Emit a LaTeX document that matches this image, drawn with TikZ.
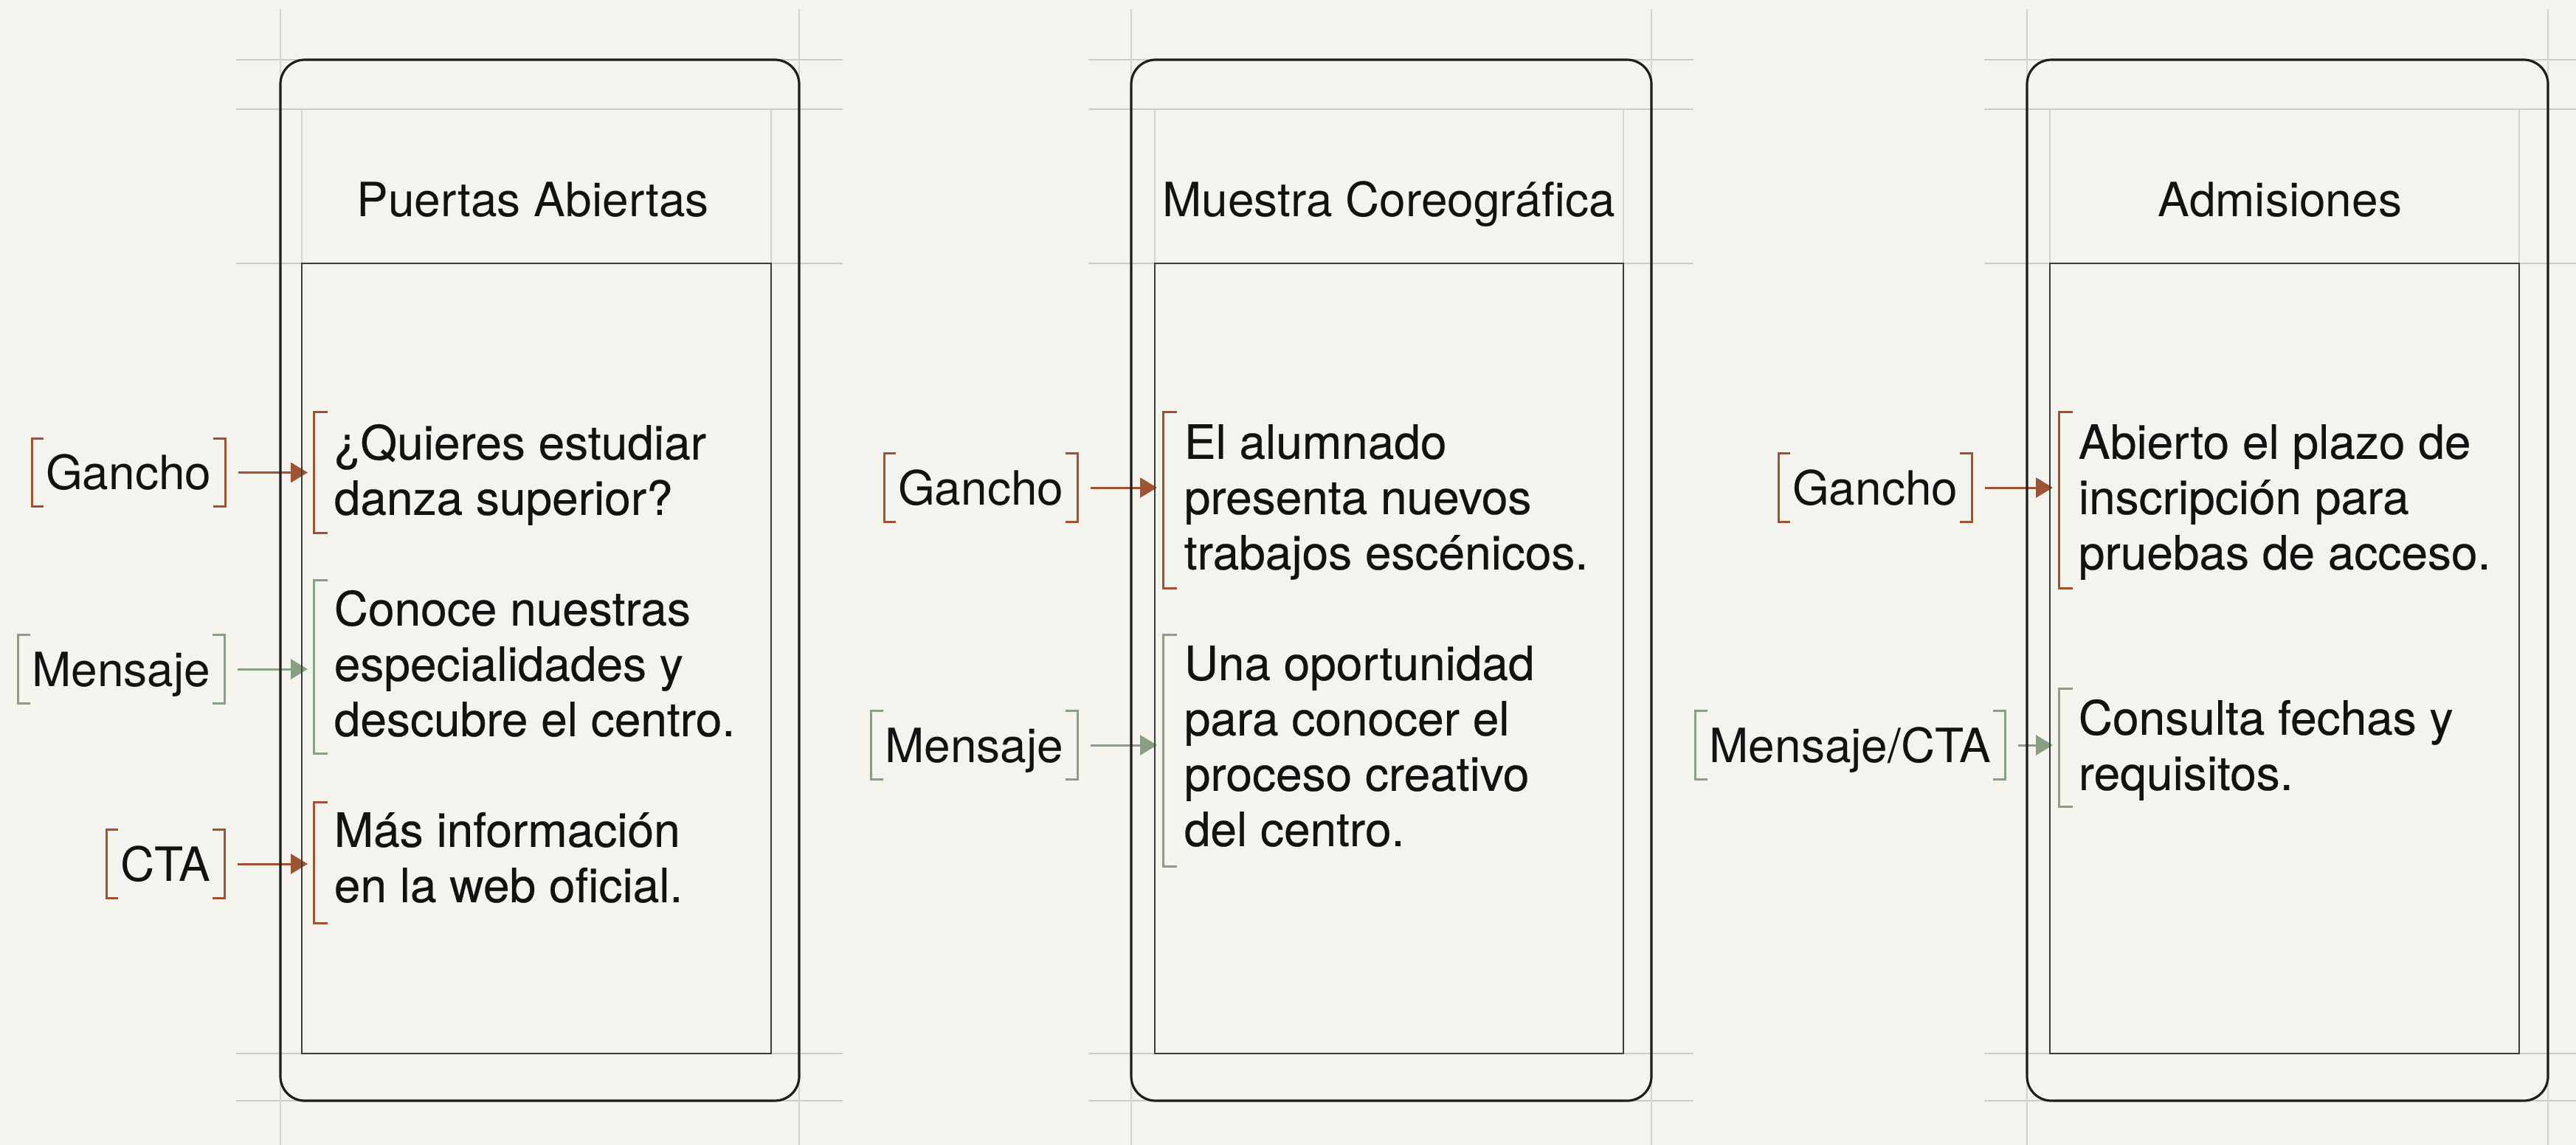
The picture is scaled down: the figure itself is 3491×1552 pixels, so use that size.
\documentclass[tikz,border=0pt]{standalone}
\usepackage{fontspec}
\setmainfont{TeX Gyre Heros}
\newfontfamily\bodyfont{TeX Gyre Heros}[FakeBold=0.35]
\usetikzlibrary{arrows.meta,calc}
\definecolor{bgc}{RGB}{244,243,238}
\definecolor{guidec}{RGB}{204,204,200}
\definecolor{guidev}{RGB}{212,212,208}
\definecolor{framec}{RGB}{30,30,30}
\definecolor{screenc}{RGB}{60,60,60}
\definecolor{rustc}{RGB}{158,84,50}
\definecolor{sagec}{RGB}{138,158,132}
\definecolor{textc}{RGB}{18,18,18}
\newcommand\lblbrk[2]{%
  \draw[brk,#2] ($(#1.north west)+(16,0)$) -- (#1.north west) -- (#1.south west) -- ($(#1.south west)+(16,0)$);
  \draw[brk,#2] ($(#1.north east)+(-16,0)$) -- (#1.north east) -- (#1.south east) -- ($(#1.south east)+(-16,0)$);
}
\newcommand\txtbrk[5]{%
  \draw[brk,#2] (#3+19,#4) -- (#3,#4) -- (#3,#5) -- (#3+19,#5);
  \coordinate (#1) at (#3,{(#4+#5)/2});
}
\newcommand\phonebody[6]{% left, right, screen left, screen right, guide left, guide right
  \draw[guide] (#5,81) -- (#6,81);
  \draw[guide] (#5,148) -- (#6,148);
  \draw[guide] (#5,357) -- (#6,357);
  \draw[guide] (#5,1428) -- (#6,1428);
  \draw[guide] (#5,1492) -- (#6,1492);
  \draw[vguide] (#1,12) -- (#1,1552);
  \draw[vguide] (#2,12) -- (#2,1552);
  \draw[vguide] (#3,148) -- (#3,357);
  \draw[vguide] (#4,148) -- (#4,357);
}
\begin{document}
\begin{tikzpicture}[x=0.25pt,y=-0.25pt,
  guide/.style={draw=guidec,line width=0.65pt},
  vguide/.style={draw=guidev,line width=0.4pt},
  phone/.style={draw=framec,line width=0.8pt,rounded corners=8.25pt},
  screen/.style={draw=screenc,line width=0.7pt},
  title/.style={font=\fontsize{16}{18.75}\selectfont,text=textc,inner sep=0pt,anchor=base},
  body/.style={font=\bodyfont\fontsize{16}{18.75}\selectfont,text=textc,inner sep=0pt,align=left,anchor=north west},
  lbl/.style={font=\fontsize{16}{18.75}\selectfont,text=textc,inner xsep=4.5pt,inner ysep=5.625pt,text height=11.5pt,text depth=0pt,anchor=east},
  brk/.style={line width=0.75pt},
  arr/.style={line width=0.75pt,-{Triangle[length=5.75pt,width=6.75pt]},shorten <=4.5pt,shorten >=2pt},
]
\useasboundingbox (0,0) rectangle (3491,1552);
\fill[bgc] (0,0) rectangle (3491,1552);
\clip (0,0) rectangle (3491,1552);

% guides
\phonebody{380}{1083}{409}{1045}{320}{1142}
\phonebody{1533}{2238}{1565}{2200}{1475}{2295}
\phonebody{2747}{3453}{2778}{3414}{2689}{3513}

% titles
\node[title] (h1) at (722,293) {Puertas Abiertas};
\node[title] (h2) at (1882,293) {Muestra Coreográfica};
\node[title] (h3) at (3090,293) {Admisiones};

% labels
\node[lbl] (g1) at (305,640.5) {Gancho};
\node[lbl] (m1) at (304,907) {Mensaje};
\node[lbl] (c1) at (304,1171) {CTA};
\node[lbl] (g2) at (1460,661) {Gancho};
\node[lbl] (m2) at (1460,1010) {Mensaje};
\node[lbl] (g3) at (2672,661) {Gancho};
\node[lbl] (m3) at (2717,1010) {Mensaje/CTA};
\lblbrk{g1}{rustc}
\lblbrk{m1}{sagec}
\lblbrk{c1}{rustc}
\lblbrk{g2}{rustc}
\lblbrk{m2}{sagec}
\lblbrk{g3}{rustc}
\lblbrk{m3}{sagec}

% text blocks
\node[body] (t1a) at (452,562) {\rule{0pt}{15pt}¿Quieres estudiar\\danza superior?};
\node[body] (t1b) at (452,787) {\rule{0pt}{15pt}Conoce nuestras\\especialidades y\\descubre el centro.};
\node[body] (t1c) at (452,1087) {\rule{0pt}{15pt}Más información\\en la web oficial.};
\node[body] (t2a) at (1604,561) {\rule{0pt}{15pt}El alumnado\\presenta nuevos\\trabajos escénicos.};
\node[body] (t2b) at (1604,861) {\rule{0pt}{15pt}Una oportunidad\\para conocer el\\proceso creativo\\del centro.};
\node[body] (t3a) at (2816,561) {\rule{0pt}{15pt}Abierto el plazo de\\inscripción para\\pruebas de acceso.};
\node[body] (t3b) at (2816,935) {\rule{0pt}{15pt}Consulta fechas y\\requisitos.};
\txtbrk{k1a}{rustc}{425}{558}{722}
\txtbrk{k1b}{sagec}{425}{786}{1021}
\txtbrk{k1c}{rustc}{425}{1087}{1251}
\txtbrk{k2a}{rustc}{1576}{558}{797}
\txtbrk{k2b}{sagec}{1576}{860}{1174}
\txtbrk{k3a}{rustc}{2790}{558}{797}
\txtbrk{k3b}{sagec}{2790}{933}{1093}

% connectors
\draw[arr,rustc] (g1.east) -- (g1.east -| k1a);
\draw[arr,sagec] (m1.east) -- (m1.east -| k1b);
\draw[arr,rustc] (c1.east) -- (c1.east -| k1c);
\draw[arr,rustc] (g2.east) -- (g2.east -| k2a);
\draw[arr,sagec] (m2.east) -- (m2.east -| k2b);
\draw[arr,rustc] (g3.east) -- (g3.east -| k3a);
\draw[arr,sagec] (m3.east) -- (m3.east -| k3b);

% phones
\draw[phone] (380,81) rectangle (1083,1492);
\draw[screen] (409,357) rectangle (1045,1428);
\draw[phone] (1533,81) rectangle (2238,1492);
\draw[screen] (1565,357) rectangle (2200,1428);
\draw[phone] (2747,81) rectangle (3453,1492);
\draw[screen] (2778,357) rectangle (3414,1428);
\end{tikzpicture}
\end{document}
